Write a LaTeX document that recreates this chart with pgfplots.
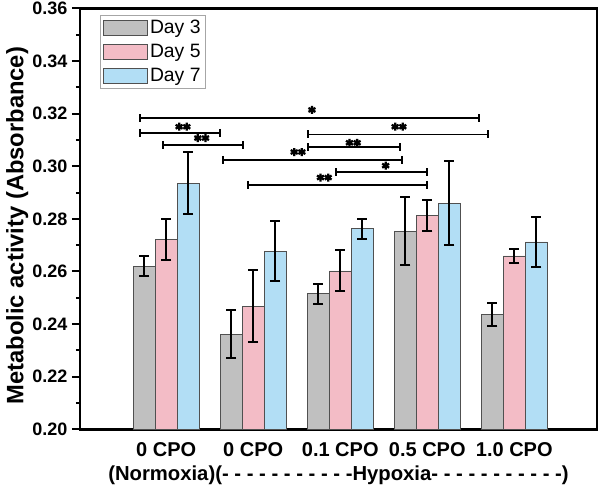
\documentclass[border=0pt]{standalone}
\usepackage{fontspec}
\setmainfont{Liberation Sans}
\usepackage{pgfplots}
\pgfplotsset{compat=1.18}
\definecolor{cgray}{RGB}{192,192,192}
\definecolor{cpink}{RGB}{243,188,198}
\definecolor{cblue}{RGB}{178,222,245}
\definecolor{cedge}{RGB}{80,80,80}
\begin{document}
\begin{tikzpicture}
\path[use as bounding box] (-60pt,-43.3pt) rectangle (390pt,322pt);
\begin{axis}[name=ax,
  scale only axis, width=387.75pt, height=315.75pt,
  xmin=0.01, xmax=5.95, ymin=0.20, ymax=0.36,
  axis line style={line width=2pt},
  xtick={1,2,3,4,5},
  xticklabels={0 CPO,0 CPO,0.1 CPO,0.5 CPO,1.0 CPO},
  x tick style={draw=none},
  ytick={0.20,0.22,0.24,0.26,0.28,0.30,0.32,0.34,0.36},
  minor y tick num=1,
  ytick pos=left, tick align=outside,
  major tick length=6pt, minor tick length=3pt,
  y tick style={line width=1.5pt,black},
  /pgf/number format/assume math mode=true,
  yticklabel style={/pgf/number format/.cd,fixed,fixed zerofill,precision=2,/tikz/.cd,
     font=\bfseries\fontsize{13.5}{15}\selectfont},
  xticklabel style={font=\bfseries\fontsize{15}{18}\selectfont},
  ylabel={Metabolic activity (Absorbance)},
  ylabel style={font=\bfseries\fontsize{17.8}{20}\selectfont, at={(rel axis cs:-0.1215,0.484)}, anchor=center},
  legend style={at={(rel axis cs:0.039,0.984)}, anchor=north west, draw=gray!70, line width=0.6pt,
     font=\fontsize{14.5}{16}\selectfont, inner sep=1.5pt, row sep=2.5pt, cells={anchor=west}},
  legend image code/.code={\draw[#1,line width=0.6pt] (0pt,-5.8pt) rectangle (33pt,5.8pt);},
  every axis plot/.append style={ybar, bar width=16.5pt, bar shift=0pt, draw=cedge, line width=0.6pt},
  error bars/error bar style={line width=1.5pt,black},
  error bars/error mark=|,
  error bars/error mark options={line width=1.5pt,black,mark size=3.75pt},
]
\addplot[fill=cgray, error bars/.cd, y dir=both, y explicit]
  coordinates {(0.7472,0.2620) +- (0,0.0038) (1.7472,0.2362) +- (0,0.0092) (2.7472,0.2516) +- (0,0.0038) (3.7472,0.2753) +- (0,0.0130) (4.7472,0.2436) +- (0,0.0045)};
\addlegendentry{Day 3}
\addplot[fill=cpink, error bars/.cd, y dir=both, y explicit]
  coordinates {(1,0.2721) +- (0,0.0078) (2,0.2468) +- (0,0.0136) (3,0.2602) +- (0,0.0078) (4,0.2813) +- (0,0.0060) (5,0.2659) +- (0,0.0026)};
\addlegendentry{Day 5}
\addplot[fill=cblue, error bars/.cd, y dir=both, y explicit]
  coordinates {(1.2528,0.2935) +- (0,0.0118) (2.2528,0.2677) +- (0,0.0113) (3.2528,0.2763) +- (0,0.0038) (4.2528,0.2860) +- (0,0.0160) (5.2528,0.2712) +- (0,0.0096)};
\addlegendentry{Day 7}
% significance brackets
\pgfplotsset{brk/.style={forget plot, sharp plot, black, draw=black, line width=1.3pt, mark=|, mark size=3pt, mark options={line width=1.3pt}}}
\addplot[brk] coordinates {(0.696,0.3182) (4.597,0.3182)};
\addplot[brk] coordinates {(0.696,0.3127) (1.622,0.3127)};
\addplot[brk] coordinates {(0.960,0.3081) (1.879,0.3081)};
\addplot[brk] coordinates {(2.633,0.3121) (4.694,0.3121)};
\addplot[brk] coordinates {(2.633,0.3072) (3.683,0.3072)};
\addplot[brk] coordinates {(1.656,0.3024) (3.713,0.3024)};
\addplot[brk] coordinates {(2.951,0.2977) (3.993,0.2977)};
\addplot[brk] coordinates {(1.937,0.2929) (3.993,0.2929)};
% asterisks
\addplot[forget plot, only marks, black, draw=black, mark=asterisk, mark size=3pt, mark options={line width=1.7pt}]
  coordinates {(2.675,0.3214)
  (1.149,0.3150) (1.237,0.3150)
  (1.364,0.3107) (1.452,0.3107)
  (3.631,0.3150) (3.719,0.3150)
  (3.106,0.3089) (3.194,0.3089)
  (2.471,0.3054) (2.559,0.3054)
  (3.522,0.3002)
  (2.773,0.2957) (2.861,0.2957)};
\end{axis}
\node[anchor=base, font=\bfseries\fontsize{15.2}{18}\selectfont, yshift=-38pt] at (ax.south)
  {(Normoxia)(- - - - - - - - - - -Hypoxia- - - - - - - - - - -)};
\end{tikzpicture}
\end{document}
